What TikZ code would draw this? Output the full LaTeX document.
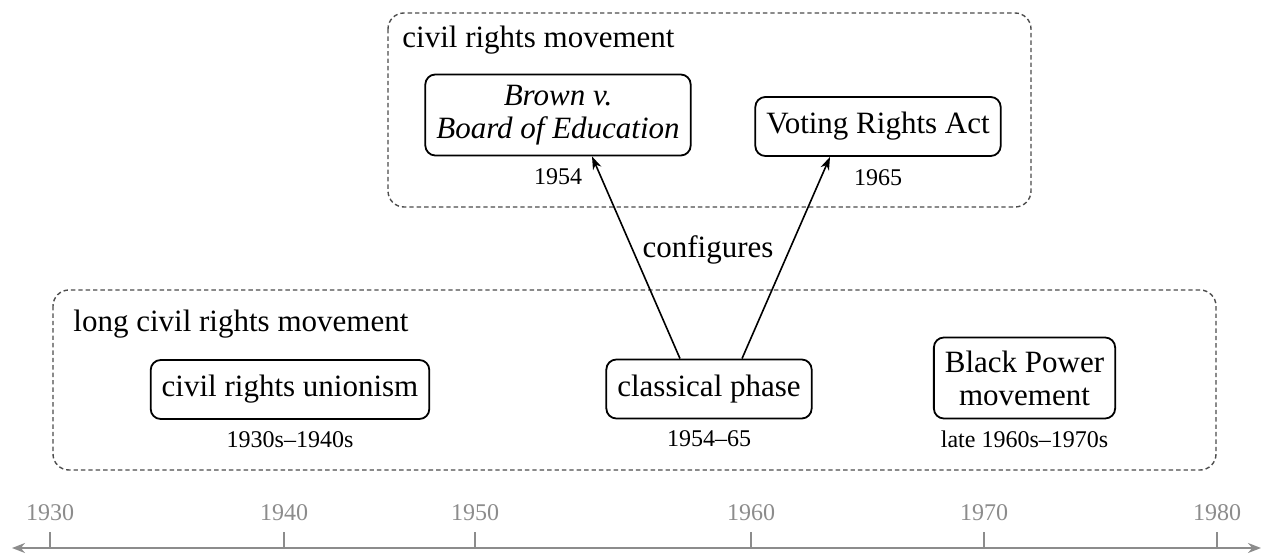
\documentclass[tikz,border=0pt]{standalone}
\usepackage{fontspec}
\setmainfont{Liberation Serif}
\usepackage{tikz}
\usetikzlibrary{positioning,arrows.meta}
\definecolor{axisgray}{gray}{0.55}
\definecolor{framegray}{gray}{0.3}
\newcommand{\boxfont}{\fontsize{15.5}{16.5}\selectfont}

\begin{document}
\begin{tikzpicture}
			[x=0.5pt,y=-0.5pt,
			every node/.style={font=\boxfont},
			event/.style={draw,line width=0.9pt,rounded corners=5pt,align=center,inner xsep=5.5pt,inner ysep=3pt,minimum height=29.5pt},
			twoline/.style={minimum height=40.5pt},
			period/.style={draw=framegray,line width=0.7pt,dash pattern=on 2.2pt off 1.5pt,rounded corners=8pt},
			grouplabel/.style={anchor=base west,inner sep=0pt},
			yearlabel/.style={font=\fontsize{12}{14}\selectfont,inner sep=0pt},
			links/.style={line width=0.8pt,-{Stealth[length=6.5pt,width=4.5pt,inset=2pt]}},
			axisline/.style={axisgray,line width=1.2pt,{Stealth[length=6.5pt,width=5pt]}-{Stealth[length=6.5pt,width=5pt]}}]
			\useasboundingbox (0,0) rectangle (1262,555);
			
			% frames
			\draw[period] (388,13) rectangle (1031,207);
			\draw[period] (53,290) rectangle (1216,470);
			\node[grouplabel] (crm) at (402,48) {civil rights movement};
			\node[grouplabel] (lcrm) at (73,332) {long civil rights movement};
			
			\node[event,twoline,font=\boxfont\itshape] (brown) at (558,115) {Brown v.\\Board of Education};
			\node[event] (vra) at (878,126.5) {Voting Rights Act};
			\node[event] (union) at (290,389.5) {civil rights unionism};
			\node[event] (classic) at (709,389) {classical phase};
			\node[event,twoline] (bpm) at (1024.5,378) {Black Power\\movement};
			
			\node[yearlabel,below=6pt of brown] (brownyr) {1954};
			\node[yearlabel,below=6pt of vra] (vrayr) {1965};
			\node[yearlabel,below=5.5pt of union] (unionyr) {1930s--1940s};
			\node[yearlabel,below=5.5pt of classic] (classicyr) {1954--65};
			\node[yearlabel,below=5.5pt of bpm] (bpmyr) {late 1960s--1970s};
			
			\node (conf) at (708,250) {configures};
			\draw[links] ([xshift=-14.5pt]classic.north) -- ([xshift=17pt]brown.south);
			\draw[links] ([xshift=16.5pt]classic.north) -- ([xshift=-24pt]vra.south);
			
			% timeline
			\coordinate (axisL) at (12,548);
			\coordinate (axisR) at (1261,548);
			\draw[axisline] (axisL) -- (axisR);
			\foreach \yr/\px in {1930/50,1940/284,1950/475,1960/751,1970/984,1980/1217}
			\draw[axisgray,line width=0.9pt] (\px,548) -- (\px,532) node[above=5pt,inner sep=0pt,text=axisgray,font=\fontsize{12}{14}\selectfont] {\yr};
			\end{tikzpicture}
\end{document}
